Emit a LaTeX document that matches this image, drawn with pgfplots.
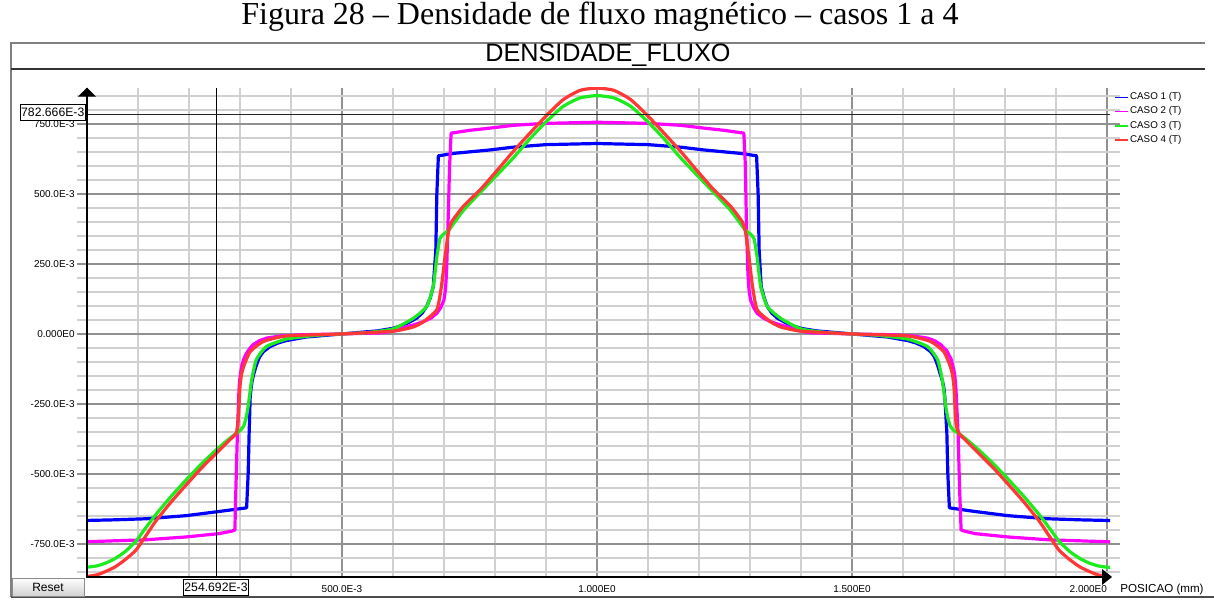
\documentclass[border=0pt]{standalone}
\usepackage{pgfplots}
\pgfplotsset{compat=1.18}
\usepackage{fontspec}
\setmainfont{Liberation Sans}
\newfontfamily\capfont{Liberation Serif}
\definecolor{cA}{RGB}{0,0,255}
\definecolor{cB}{RGB}{255,0,255}
\definecolor{cC}{RGB}{30,235,30}
\definecolor{cD}{RGB}{255,55,55}
\definecolor{gmaj}{RGB}{145,145,145}
\definecolor{gmin}{RGB}{208,208,208}
\begin{document}
\begin{tikzpicture}
\useasboundingbox (0pt,0pt) rectangle (607pt,306pt);
% caption
\node[font=\capfont\fontsize{16}{18}\selectfont] at (300pt,297.6pt) {Figura 28 – Densidade de fluxo magnético – casos 1 a 4};
% frame
\draw[gray, line width=1pt] (5.5pt,7.5pt) -- (5.5pt,284.5pt) -- (602.5pt,284.5pt);
\draw[black!80, line width=0.6pt] (5.5pt,271.5pt) -- (602.5pt,271.5pt);
\draw[black!70, line width=0.8pt] (5.5pt,7.5pt) -- (607pt,7.5pt);
\node[font=\fontsize{12.6}{14}\selectfont] at (304pt,278.2pt) {DENSIDADE\_FLUXO};
\begin{axis}[name=ax, at={(43.5pt,17.5pt)}, anchor=south west, scale only axis,
  width=511.5pt, height=244.75pt,
  xmin=0, xmax=2.006, ymin=-0.868, ymax=0.880,
  axis line style={draw=none},
  clip mode=individual,
  xtick={0.5,1,1.5,2},
  xticklabels={500.0E-3,1.000E0,1.500E0,\makebox[0pt][r]{2.000E0}},
  ytick={-0.75,-0.5,-0.25,0,0.25,0.5,0.75},
  yticklabels={-750.0E-3,-500.0E-3,-250.0E-3,0.000E0,250.0E-3,500.0E-3,750.0E-3},
  minor xtick={0.1,0.2,0.3,0.4,0.6,0.7,0.8,0.9,1.1,1.2,1.3,1.4,1.6,1.7,1.8,1.9},
  minor ytick={-0.85,-0.8,-0.7,-0.65,-0.6,-0.55,-0.45,-0.4,-0.35,-0.3,-0.2,-0.15,-0.1,-0.05,0.05,0.1,0.15,0.2,0.3,0.35,0.4,0.45,0.55,0.6,0.65,0.7,0.8,0.85},
  grid=both,
  major grid style={gmaj, line width=0.65pt},
  minor grid style={gmin, line width=0.65pt},
  tick align=outside, major tick length=5pt, minor tick length=5pt,
  major tick style={gmaj, line width=0.65pt},
  minor tick style={gmin, line width=0.65pt},
  xtick style={draw=none},
  ticklabel style={font=\fontsize{5}{6}\selectfont},
  yticklabel style={inner sep=1pt},
  xticklabel style={inner sep=0pt, yshift=1pt},
  legend cell align=left,
  legend style={at={(1.004,0.993)}, anchor=north west, draw=none, fill=none, inner sep=0pt,
    font=\fontsize{4.9}{5.6}\selectfont, row sep=1.1pt, nodes={inner sep=0.5pt}},
  legend image code/.code={\draw[mark repeat=2,mark phase=2,#1] plot coordinates {(0pt,0pt) (3.25pt,0pt) (6.5pt,0pt)};},
  legend image post style={line width=0.8pt},
  every axis plot/.append style={line width=1.6pt, line join=round},
]
\addplot[cA] coordinates {(0,-0.666) (0.05,-0.664) (0.116,-0.660) (0.194,-0.649) (0.259,-0.634) (0.313,-0.621) (0.316,-0.50) (0.318,-0.35) (0.320,-0.224) (0.322,-0.19) (0.324,-0.165) (0.327,-0.143) (0.331,-0.118) (0.335,-0.097) (0.339,-0.080) (0.346,-0.063) (0.359,-0.045) (0.375,-0.032) (0.39,-0.024) (0.43,-0.011) (0.5,0) (0.57,0.011) (0.60,0.020) (0.614,0.028) (0.630,0.040) (0.646,0.056) (0.657,0.074) (0.666,0.098) (0.673,0.128) (0.679,0.169) (0.684,0.30) (0.686,0.50) (0.689,0.636) (0.72,0.645) (0.79,0.657) (0.836,0.667) (0.9,0.676) (1.0,0.680)
(1.1,0.676) (1.164,0.667) (1.21,0.657) (1.28,0.645) (1.313,0.636) (1.316,0.50) (1.318,0.30) (1.322,0.169) (1.328,0.128) (1.334,0.098) (1.343,0.074) (1.354,0.056) (1.370,0.040) (1.386,0.028) (1.40,0.020) (1.43,0.011) (1.5,0) (1.57,-0.011) (1.61,-0.024) (1.625,-0.032) (1.641,-0.045) (1.654,-0.063) (1.661,-0.080) (1.665,-0.097) (1.669,-0.118) (1.673,-0.143) (1.677,-0.165) (1.680,-0.19) (1.682,-0.224) (1.686,-0.35) (1.688,-0.50) (1.691,-0.621) (1.741,-0.634) (1.806,-0.649) (1.884,-0.660) (1.95,-0.664) (2.0,-0.666) (2.006,-0.666)};
\addlegendentry{CASO 1 (T)}
\addplot[cB] coordinates {(0,-0.742) (0.116,-0.735) (0.194,-0.725) (0.259,-0.713) (0.284,-0.704) (0.290,-0.700) (0.292,-0.55) (0.295,-0.35) (0.298,-0.20) (0.300,-0.155) (0.302,-0.13) (0.304,-0.110) (0.307,-0.092) (0.311,-0.075) (0.316,-0.060) (0.321,-0.048) (0.326,-0.038) (0.338,-0.024) (0.352,-0.015) (0.38,-0.007) (0.418,-0.003) (0.5,0) (0.58,0.004) (0.60,0.010) (0.62,0.022) (0.64,0.032) (0.66,0.044) (0.675,0.057) (0.686,0.074) (0.694,0.095) (0.700,0.122) (0.703,0.160) (0.705,0.216) (0.708,0.40) (0.711,0.60) (0.714,0.717) (0.75,0.727) (0.79,0.735) (0.836,0.745) (0.9,0.752) (1.0,0.756)
(1.1,0.752) (1.164,0.745) (1.21,0.735) (1.25,0.727) (1.288,0.717) (1.291,0.60) (1.293,0.40) (1.296,0.216) (1.298,0.160) (1.301,0.122) (1.307,0.095) (1.314,0.074) (1.326,0.057) (1.34,0.044) (1.36,0.032) (1.38,0.022) (1.40,0.010) (1.42,0.004) (1.5,0) (1.582,-0.003) (1.62,-0.007) (1.648,-0.015) (1.662,-0.024) (1.674,-0.038) (1.679,-0.048) (1.686,-0.060) (1.690,-0.075) (1.695,-0.092) (1.697,-0.110) (1.700,-0.13) (1.702,-0.155) (1.704,-0.20) (1.708,-0.35) (1.711,-0.55) (1.714,-0.700) (1.72,-0.704) (1.741,-0.713) (1.806,-0.725) (1.884,-0.735) (2.0,-0.742) (2.006,-0.742)};
\addlegendentry{CASO 2 (T)}
\addplot[cC, smooth, tension=0.35] coordinates {(0,-0.833) (0.02,-0.828) (0.037,-0.818) (0.055,-0.802) (0.075,-0.777) (0.096,-0.740) (0.115,-0.693) (0.135,-0.645) (0.165,-0.580) (0.194,-0.522) (0.225,-0.463) (0.253,-0.415) (0.275,-0.380) (0.292,-0.356) (0.300,-0.345) (0.307,-0.330) (0.312,-0.30) (0.316,-0.259) (0.323,-0.164) (0.332,-0.092) (0.352,-0.045) (0.392,-0.018) (0.45,-0.005) (0.5,0) (0.55,0.005) (0.6,0.018) (0.64,0.056) (0.666,0.098) (0.679,0.170) (0.686,0.275) (0.692,0.340) (0.700,0.358) (0.709,0.370) (0.738,0.441) (0.771,0.505) (0.80,0.56) (0.836,0.629) (0.87,0.70) (0.901,0.759) (0.934,0.813) (0.967,0.843) (1.0,0.851)
(1.033,0.843) (1.066,0.813) (1.099,0.759) (1.13,0.70) (1.164,0.629) (1.20,0.56) (1.229,0.505) (1.262,0.441) (1.291,0.370) (1.300,0.358) (1.308,0.340) (1.314,0.275) (1.321,0.170) (1.334,0.098) (1.36,0.056) (1.40,0.018) (1.45,0.005) (1.5,0) (1.55,-0.005) (1.608,-0.018) (1.648,-0.045) (1.668,-0.092) (1.677,-0.164) (1.684,-0.259) (1.688,-0.30) (1.693,-0.330) (1.700,-0.345) (1.710,-0.356) (1.727,-0.380) (1.749,-0.415) (1.777,-0.463) (1.808,-0.522) (1.837,-0.580) (1.867,-0.645) (1.887,-0.693) (1.906,-0.740) (1.927,-0.777) (1.947,-0.802) (1.965,-0.818) (1.982,-0.828) (2.0,-0.833) (2.006,-0.834)};
\addlegendentry{CASO 3 (T)}
\addplot[cD, smooth, tension=0.35] coordinates {(0,-0.866) (0.02,-0.860) (0.037,-0.848) (0.055,-0.832) (0.075,-0.806) (0.096,-0.772) (0.115,-0.722) (0.135,-0.668) (0.165,-0.600) (0.194,-0.540) (0.225,-0.478) (0.253,-0.427) (0.275,-0.387) (0.292,-0.356) (0.295,-0.33) (0.297,-0.295) (0.300,-0.188) (0.303,-0.145) (0.307,-0.117) (0.320,-0.063) (0.346,-0.027) (0.392,-0.007) (0.5,0) (0.6,0.010) (0.64,0.025) (0.66,0.044) (0.686,0.087) (0.695,0.170) (0.702,0.275) (0.709,0.366) (0.715,0.400) (0.738,0.456) (0.771,0.515) (0.80,0.575) (0.836,0.652) (0.87,0.72) (0.901,0.780) (0.934,0.837) (0.967,0.870) (1.0,0.878)
(1.033,0.870) (1.066,0.837) (1.099,0.780) (1.13,0.72) (1.164,0.652) (1.20,0.575) (1.229,0.515) (1.262,0.456) (1.285,0.400) (1.291,0.366) (1.298,0.275) (1.305,0.170) (1.314,0.087) (1.34,0.044) (1.36,0.025) (1.40,0.010) (1.5,0) (1.608,-0.007) (1.654,-0.027) (1.680,-0.063) (1.693,-0.117) (1.697,-0.145) (1.700,-0.188) (1.703,-0.295) (1.705,-0.33) (1.710,-0.356) (1.727,-0.387) (1.749,-0.427) (1.777,-0.478) (1.808,-0.540) (1.837,-0.600) (1.867,-0.668) (1.887,-0.722) (1.906,-0.772) (1.927,-0.806) (1.947,-0.832) (1.965,-0.848) (1.982,-0.860) (2.0,-0.866) (2.006,-0.867)};
\addlegendentry{CASO 4 (T)}
% cursor lines
\draw[black, line width=0.5pt] (axis cs:0.2547,-0.868) -- (axis cs:0.2547,0.880);
\draw[black!85, line width=0.6pt] (axis cs:0,0.7827) -- (axis cs:2.006,0.7827);
\end{axis}
% axis lines
\draw[black, line width=0.6pt] (ax.north west) -- (ax.south west) -- (ax.south east);
\fill[black] (ax.north west) -- ++(-4.5pt,-4.5pt) -- ++(9pt,0pt) -- cycle;
\fill[black] ([xshift=1pt]ax.south east) -- ++(-5pt,4pt) -- ++(0pt,-8pt) -- cycle;
% cursor boxes
\node[draw=black, fill=white, line width=0.5pt, inner sep=0.6pt, minimum height=8pt, anchor=east, font=\fontsize{6.1}{7}\selectfont] at (43pt,250pt) {782.666E-3};
\node[draw=black, fill=white, line width=0.5pt, inner sep=0.6pt, minimum height=8pt, font=\fontsize{6.1}{7}\selectfont] at (108pt,12.5pt) {254.692E-3};
% reset button
\shade[top color=white, bottom color=black!18, draw=black!45, line width=0.5pt] (6pt,8pt) rectangle (42pt,17pt);
\node[font=\fontsize{6}{7}\selectfont] at (24pt,12.5pt) {Reset};
\node[font=\fontsize{5.8}{7}\selectfont] at (581pt,11.5pt) {POSICAO (mm)};
\end{tikzpicture}
\end{document}
